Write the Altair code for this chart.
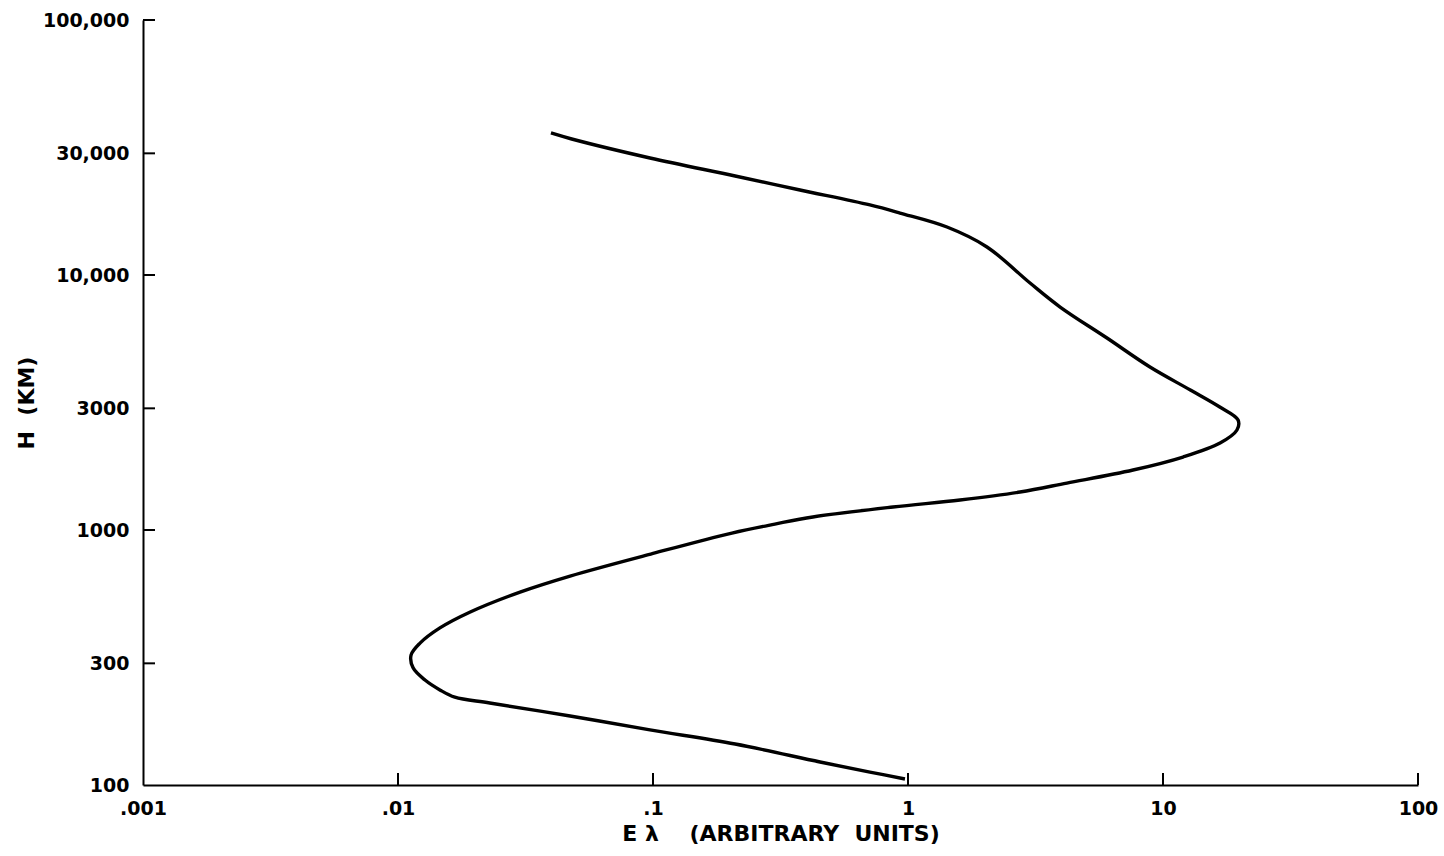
import altair as alt
import pandas as pd

# Curve: E_lambda (arbitrary units) vs height H (km)
e_vals = [0.0398, 0.048, 0.0973, 0.210, 0.377, 0.709, 0.930, 1.422, 2.04, 3.01,
          3.95, 6.03, 8.89, 12.8, 16.7, 19.7, 19.5, 16.74, 11.98, 7.63, 4.20,
          2.75, 1.60, 0.873, 0.4236, 0.3006, 0.204, 0.098, 0.0473, 0.0301,
          0.0192, 0.0146, 0.0122, 0.01125, 0.01146, 0.01276, 0.0146, 0.0167, 0.0229,
          0.0473, 0.0973, 0.210, 0.452, 0.709, 0.973]
h_vals = [36060, 34150, 28770, 24450, 21540, 18820, 17500, 15420, 12880, 9300,
          7490, 5660, 4357, 3540, 3035, 2700, 2467, 2193, 1933, 1719, 1528,
          1409, 1311, 1231, 1125, 1055, 973, 805, 660, 571,
          477, 413, 360, 323, 288, 258, 236, 221, 209.7,
          186.5, 164.4, 144.8, 123.1, 112.4, 105.6]

x_tick_values = [0.001, 0.01, 0.1, 1, 10, 100]
x_tick_labels = [".001", ".01", ".1", "1", "10", "100"]
y_tick_values = [100, 300, 1000, 3000, 10000, 30000, 100000]
y_tick_labels = ["100", "300", "1000", "3000", "10,000", "30,000", "100,000"]
x_inward_ticks = [0.01, 0.1, 1, 10, 100]
y_inward_ticks = [300, 1000, 3000, 10000, 30000, 100000]

W, H = 1275, 765
FONT = "DejaVu Sans"
NB = "\u00a0"


def label_expr(values, labels):
    expr = "''"
    for v, l in zip(values[::-1], labels[::-1]):
        expr = f"abs(datum.value - {v}) < {v * 1e-6} ? '{l}' : ({expr})"
    return expr


curve = pd.DataFrame({"e": e_vals, "h": h_vals, "order": list(range(len(e_vals)))})

x_scale = alt.Scale(type="log", domain=[0.001, 100], nice=False)
y_scale = alt.Scale(type="log", domain=[100, 100000], nice=False)

x_axis = alt.Axis(values=x_tick_values, labelExpr=label_expr(x_tick_values, x_tick_labels),
                  title=f"E{NB}λ{NB * 4}(ARBITRARY{NB * 2}UNITS)", ticks=False, grid=False,
                  domainColor="black", domainWidth=2, labelPadding=14,
                  labelFontSize=19, labelFont=FONT, labelFontWeight="bold", labelColor="black",
                  titleFontSize=22, titleFont=FONT, titleFontWeight="bold",
                  titleColor="black", titlePadding=5, labelFlush=False)
y_axis = alt.Axis(values=y_tick_values, labelExpr=label_expr(y_tick_values, y_tick_labels),
                  title=f"H{NB * 2}(KM)", ticks=False, grid=False,
                  domainColor="black", domainWidth=2, labelPadding=14,
                  labelFontSize=19, labelFont=FONT, labelFontWeight="bold", labelColor="black",
                  titleFontSize=22, titleFont=FONT, titleFontWeight="bold",
                  titleColor="black", titlePadding=4, labelFlush=False)

line = alt.Chart(curve).mark_line(color="black", strokeWidth=3.4, interpolate="catmull-rom").encode(
    x=alt.X("e:Q", scale=x_scale, axis=x_axis),
    y=alt.Y("h:Q", scale=y_scale, axis=y_axis),
    order="order:Q",
)

xt = alt.Chart(pd.DataFrame({"v": x_inward_ticks})).mark_rule(color="black", strokeWidth=2).encode(
    x=alt.X("v:Q", scale=x_scale, axis=x_axis),
    y=alt.value(H),
    y2=alt.value(H - 12),
)
yt = alt.Chart(pd.DataFrame({"v": y_inward_ticks})).mark_rule(color="black", strokeWidth=2).encode(
    y=alt.Y("v:Q", scale=y_scale, axis=y_axis),
    x=alt.value(0),
    x2=alt.value(12),
)

chart = alt.layer(line, xt, yt).properties(
    width=W, height=H,
    autosize=alt.AutoSizeParams(type="none"),
    padding={"left": 143, "top": 20, "right": 26, "bottom": 71},
).configure(background="white").configure_view(strokeWidth=0, stroke="transparent")

chart.save("out.html", embed_options={"renderer": "svg", "actions": False})
